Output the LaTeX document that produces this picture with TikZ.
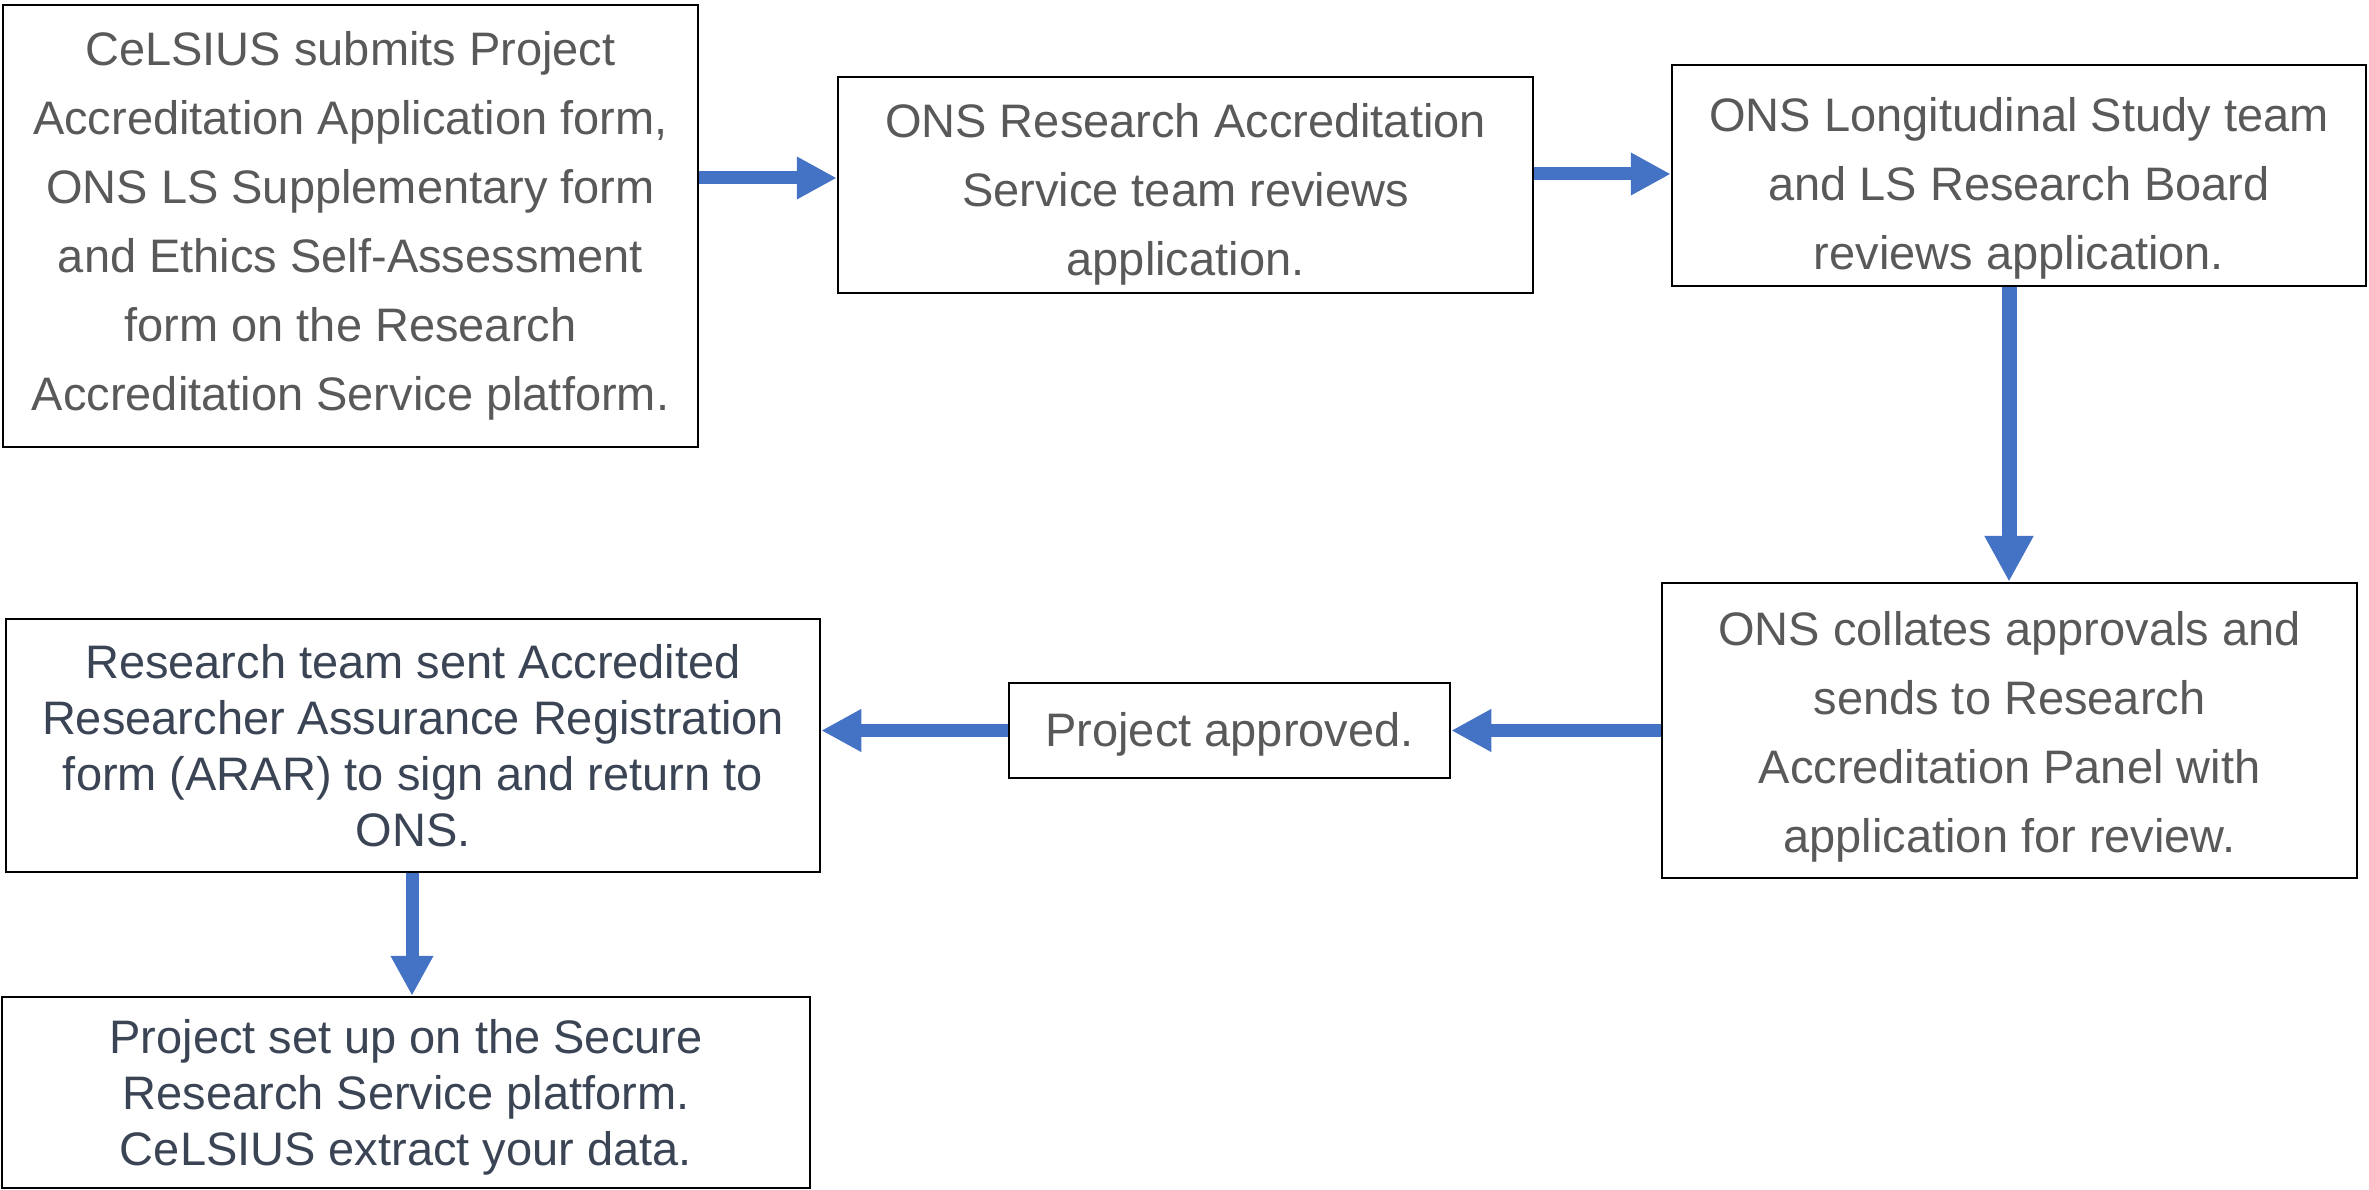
\documentclass[tikz,border=0pt]{standalone}
\usepackage{fontspec}
\setmainfont{Liberation Sans}
\usetikzlibrary{arrows.meta}
\definecolor{txtgray}{HTML}{595959}
\definecolor{txtnavy}{HTML}{3A4454}
\definecolor{arrblue}{HTML}{4472C4}
\newcommand{\lowerby}[1]{\rule{0pt}{\dimexpr 34pt+2\dimexpr #1\relax\relax}}
\begin{document}
\begin{tikzpicture}[x=1pt,y=-1pt,
  flowbox/.style={draw=black,line width=2.5pt,rectangle,inner sep=0pt,align=center,
    text=txtgray,font=\fontsize{47}{69}\selectfont},
  navybox/.style={flowbox,text=txtnavy,font=\fontsize{47}{56}\selectfont},
  flowarrow/.style={draw=arrblue,line width=13pt,-{Triangle[length=40pt,width=40pt]}}]
\useasboundingbox (0,0) rectangle (2369,1190);
\node[flowbox,minimum width=695pt,minimum height=442pt] (b1) at (350.5,226)
  {CeLSIUS submits Project\\Accreditation Application form,\\ONS LS Supplementary form\\and Ethics Self-Assessment\\form on the Research\\Accreditation Service platform.};
\node[flowbox,minimum width=695pt,minimum height=216pt] (b2) at (1185.5,185)
  {\lowerby{9pt}ONS Research Accreditation\\Service team reviews\\application.};
\node[flowbox,minimum width=694pt,minimum height=221pt] (b3) at (2019,175.5)
  {\lowerby{13pt}ONS Longitudinal Study team\\and LS Research Board\\reviews application.};
\node[flowbox,minimum width=695pt,minimum height=295pt] (b4) at (2009.5,730.5)
  {\lowerby{6pt}ONS collates approvals and\\sends to Research\\Accreditation Panel with\\application for review.};
\node[flowbox,minimum width=441pt,minimum height=95pt] (b5) at (1229.5,730.5)
  {\lowerby{4pt}Project approved.};
\node[navybox,minimum width=814pt,minimum height=253pt] (b6) at (413,745.5)
  {Research team sent Accredited\\Researcher Assurance Registration\\form (ARAR) to sign and return to\\ONS.};
\node[navybox,minimum width=808pt,minimum height=191pt] (b7) at (406,1092.5)
  {\lowerby{5pt}Project set up on the Secure\\Research Service platform.\\CeLSIUS extract your data.};
\coordinate (y1) at (0,178);
\coordinate (y2) at (0,174);
\coordinate (x3) at (2009,0);
\coordinate (x6) at (412,0);
\draw[flowarrow] (b1.east |- y1) -- (b2.west |- y1);
\draw[flowarrow] (b2.east |- y2) -- (b3.west |- y2);
\draw[flowarrow,line width=15pt,-{Triangle[length=46pt,width=46pt]}] (b3.south -| x3) -- (b4.north -| x3);
\draw[flowarrow] (b4.west) -- (b5.east);
\draw[flowarrow] (b5.west) -- (b6.east |- b5.west);
\draw[flowarrow] (b6.south -| x6) -- (b7.north -| x6);
\end{tikzpicture}
\end{document}
